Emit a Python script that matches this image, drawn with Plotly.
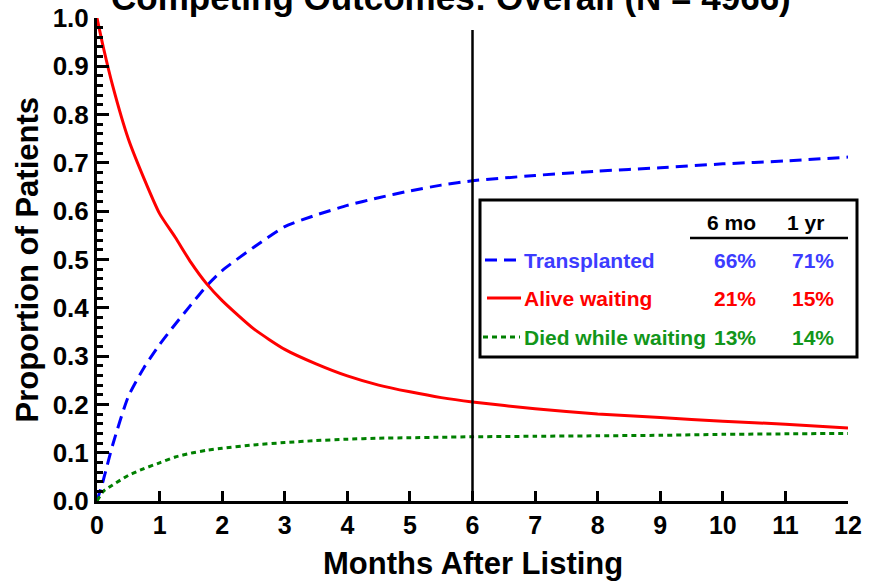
import plotly.graph_objects as go

# ---------------- data ----------------
months = [0, 0.1, 0.25, 0.5, 0.75, 1, 1.25, 1.5, 1.75, 2, 2.5, 3, 3.5, 4, 4.5,
          5, 5.5, 6, 7, 8, 9, 10, 11, 12]
transplanted = [0, 0.043, 0.116, 0.216, 0.276, 0.324, 0.366, 0.406, 0.445, 0.477,
                0.525, 0.568, 0.592, 0.612, 0.628, 0.642, 0.654, 0.663, 0.674,
                0.683, 0.69, 0.698, 0.704, 0.712]
alive_waiting = [1.0, 0.94, 0.86, 0.75, 0.668, 0.595, 0.546, 0.494, 0.45, 0.415,
                 0.357, 0.314, 0.284, 0.259, 0.24, 0.226, 0.214, 0.205, 0.191,
                 0.18, 0.173, 0.165, 0.159, 0.151]
died_waiting = [0, 0.02, 0.033, 0.053, 0.067, 0.079, 0.091, 0.099, 0.105, 0.109,
                0.116, 0.121, 0.125, 0.128, 0.13, 0.131, 0.132, 0.133, 0.134,
                0.135, 0.136, 0.138, 0.139, 0.140]

series_names = ["Transplanted", "Alive waiting", "Died while waiting"]
pct_6mo = ["66%", "21%", "13%"]
pct_1yr = ["71%", "15%", "14%"]
col_headers = ["6 mo", "1 yr"]
x_ticks = list(range(0, 13))
landmark_month = 6

title_text = "Competing Outcomes: Overall (N = 4966)"
x_title = "Months After Listing"
y_title = "Proportion of Patients"

# ---------------- styles ----------------
W, H = 869, 582
L, R, T, B = 97, 848, 18, 501
FONT = "Arial, Liberation Sans, sans-serif"
line_colors = ["#0000ff", "#ff0000", "#008000"]
text_colors = ["#3c3cff", "#ff0000", "#12961a"]
dashes = ["12px,7px", "solid", "5px,4px"]
LEG_SIZE = 21


def X(px):
    return (px - L) / (R - L)


def Y(py):
    return (B - py) / (B - T)


fig = go.Figure()
for yvals, name, col, dash in zip([transplanted, alive_waiting, died_waiting],
                                  series_names, line_colors, dashes):
    fig.add_trace(go.Scatter(x=months, y=yvals, mode="lines", name=name,
                             line=dict(color=col, width=3, dash=dash,
                                       shape="spline", smoothing=0.6),
                             showlegend=False, cliponaxis=False,
                             hoverinfo="skip"))

shapes = []
# landmark vertical line
shapes.append(dict(type="line", xref="x", yref="paper", x0=landmark_month,
                   x1=landmark_month, y0=0, y1=Y(30),
                   line=dict(color="black", width=2.5)))
# legend box
shapes.append(dict(type="rect", xref="paper", yref="paper", x0=X(480), x1=X(857),
                   y0=Y(357), y1=Y(200), line=dict(color="black", width=3),
                   fillcolor="white", layer="above"))
# header underline
shapes.append(dict(type="line", xref="paper", yref="paper", x0=X(690), x1=X(848),
                   y0=Y(238), y1=Y(238), line=dict(color="black", width=2.5),
                   layer="above"))

annotations = []
row_y = [260, 298, 337]
sample_x = [(485, 517), (487, 521), (483, 520)]
for i, name in enumerate(series_names):
    sx0, sx1 = sample_x[i]
    shapes.append(dict(type="line", xref="paper", yref="paper", x0=X(sx0), x1=X(sx1),
                       y0=Y(row_y[i]), y1=Y(row_y[i]), layer="above",
                       line=dict(color=line_colors[i], width=3, dash=dashes[i])))
    annotations.append(dict(xref="paper", yref="paper", x=X(522), y=Y(row_y[i]),
                             xanchor="left", yanchor="middle", text=name,
                             showarrow=False,
                             font=dict(family=FONT, size=LEG_SIZE,
                                       color=text_colors[i], weight="bold")))
    annotations.append(dict(xref="paper", yref="paper", x=X(758), y=Y(row_y[i]),
                             xanchor="right", yanchor="middle", text=pct_6mo[i],
                             showarrow=False,
                             font=dict(family=FONT, size=LEG_SIZE,
                                       color=text_colors[i], weight="bold")))
    annotations.append(dict(xref="paper", yref="paper", x=X(836), y=Y(row_y[i]),
                             xanchor="right", yanchor="middle", text=pct_1yr[i],
                             showarrow=False,
                             font=dict(family=FONT, size=LEG_SIZE,
                                       color=text_colors[i], weight="bold")))
for hx, htxt in zip([758, 826], col_headers):
    annotations.append(dict(xref="paper", yref="paper", x=X(hx), y=Y(223),
                             xanchor="right", yanchor="middle", text=htxt,
                             showarrow=False,
                             font=dict(family=FONT, size=LEG_SIZE, color="black",
                                       weight="bold")))

# axis titles
annotations.append(dict(xref="paper", yref="paper", x=0.5, y=Y(563),
                        xanchor="center", yanchor="middle", text=x_title,
                        showarrow=False,
                        font=dict(family=FONT, size=31, color="black", weight="bold")))
annotations.append(dict(xref="paper", yref="paper", x=X(27), y=0.5,
                        xanchor="center", yanchor="middle", text=y_title,
                        textangle=-90, showarrow=False,
                        font=dict(family=FONT, size=31, color="black", weight="bold")))
# title (clipped at top, as in the reference)
annotations.append(dict(xref="paper", yref="paper", x=X(451), y=Y(-3),
                        xanchor="center", yanchor="middle", text=title_text,
                        showarrow=False,
                        font=dict(family=FONT, size=35, color="black", weight="bold")))

fig.update_layout(
    width=W, height=H,
    margin=dict(l=L, r=W - R, t=T, b=H - B, pad=0, autoexpand=False),
    paper_bgcolor="white", plot_bgcolor="white",
    shapes=shapes, annotations=annotations,
    font=dict(family=FONT, color="black"),
)
fig.update_xaxes(range=[0, 12], tickvals=x_ticks, showline=True, linewidth=3,
                 linecolor="black", ticks="inside", ticklen=10, tickwidth=3,
                 tickcolor="black", showgrid=False, zeroline=False, automargin=False,
                 tickfont=dict(family=FONT, size=25, color="black", weight="bold"))
fig.update_yaxes(range=[0, 1], dtick=0.1, tick0=0, tickformat=".1f", showline=True,
                 linewidth=3, linecolor="black", ticks="inside", ticklen=12,
                 tickwidth=3, tickcolor="black", showgrid=False, zeroline=False,
                 automargin=False,
                 minor=dict(dtick=0.02, ticks="inside", ticklen=6, tickwidth=2.5,
                            tickcolor="black", showgrid=False),
                 tickfont=dict(family=FONT, size=26, color="black", weight="bold"))

fig.write_html("out.html", config={"displayModeBar": False},
               post_script="document.body.style.margin='0';"
                           "document.body.style.overflow='hidden';")
